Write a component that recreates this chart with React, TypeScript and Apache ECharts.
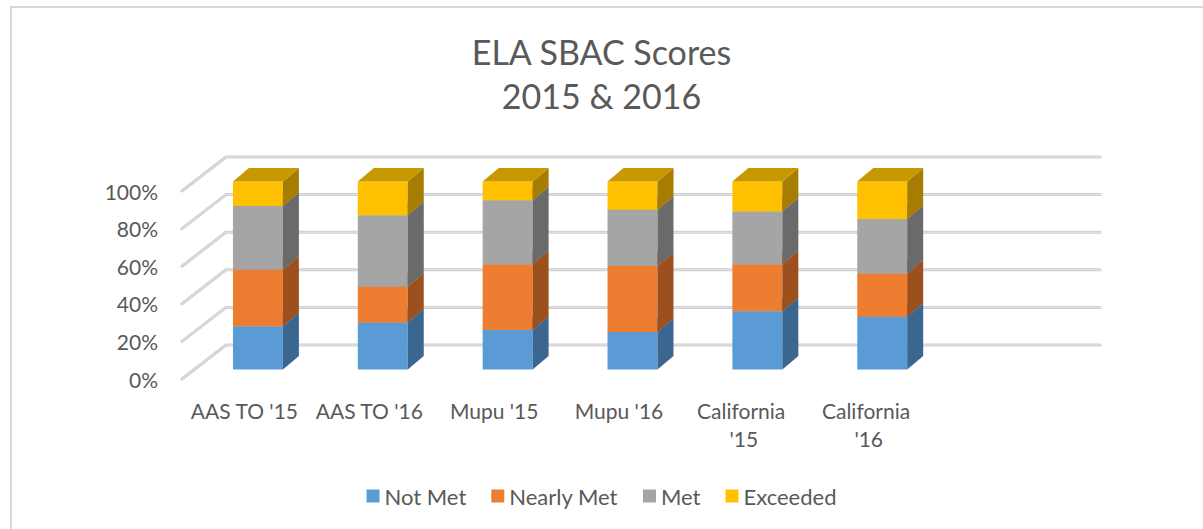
import React, { useEffect, useRef } from "react";
import * as echarts from "echarts";

const categories = ["AAS TO '15", "AAS TO '16", "Mupu '15", "Mupu '16", "California '15", "California '16"];
const seriesNames = ["Not Met", "Nearly Met", "Met", "Exceeded"];
const notMet = [23, 25, 21, 20, 31, 28];
const nearlyMet = [30, 19, 35, 35, 25, 23];
const met = [34, 38, 34, 30, 28, 29];
const exceeded = [13, 18, 10, 15, 16, 20];
const yTicks = [0, 20, 40, 60, 80, 100];

const FONT = "Lato";
const TEXT = "#595959";
const FRONT = { dx: 13.5, dy: -9.5 };
const DEPTH = { dx: 16, dy: -13.5 };
const WALL = { dx: 44, dy: -34 };

const palette = [
  { face: "#5b9bd5", side: "#3b6690", top: "#4a80b3" },
  { face: "#ed7d31", side: "#9b501e", top: "#c2662a" },
  { face: "#a5a5a5", side: "#6a6a6a", top: "#888888" },
  { face: "#ffc000", side: "#a67d00", top: "#c79800" },
];

function barRenderer(c: { face: string; side: string; top: string }) {
  return (params: any, api: any) => {
    const cat = api.value(0);
    const b = api.value(1);
    const t = api.value(2);
    const pb = api.coord([cat, b]);
    const pt = api.coord([cat, t]);
    const band = api.size([1, 0])[0];
    const w = band * 0.4;
    const x0 = pb[0] + FRONT.dx - w / 2;
    const x1 = x0 + w;
    const yb = pb[1] + FRONT.dy;
    const yt = pt[1] + FRONT.dy;
    return {
      type: "group",
      children: [
        {
          type: "polygon",
          shape: { points: [[x0, yb], [x1, yb], [x1, yt], [x0, yt]] },
          style: { fill: c.face },
        },
        {
          type: "polygon",
          shape: {
            points: [
              [x1, yb],
              [x1, yt],
              [x1 + DEPTH.dx, yt + DEPTH.dy],
              [x1 + DEPTH.dx, yb + DEPTH.dy],
            ],
          },
          style: { fill: c.side },
        },
        {
          type: "polygon",
          shape: {
            points: [
              [x0, yt],
              [x1, yt],
              [x1 + DEPTH.dx, yt + DEPTH.dy],
              [x0 + DEPTH.dx, yt + DEPTH.dy],
            ],
          },
          style: { fill: c.top },
        },
      ],
    };
  };
}

export default function App() {
  const ref = useRef<HTMLDivElement>(null);
  useEffect(() => {
    if (!ref.current) return;
    const chart = echarts.init(ref.current, null, { renderer: "svg" });
    const values = [notMet, nearlyMet, met, exceeded];
    const xData = [...categories, ""];
    const lastIdx = xData.length - 1;

    const barSeries = values.map((vals, k) => {
      const data = vals.map((v, i) => {
        let base = 0;
        for (let j = 0; j < k; j++) base += values[j][i];
        return [i, base, base + v];
      });
      return {
        type: "custom",
        name: seriesNames[k],
        itemStyle: { color: palette[k].face },
        encode: { x: 0, y: [1, 2] },
        data,
        z: 3,
        renderItem: barRenderer(palette[k]),
      };
    });

    const wallSeries = {
      type: "custom",
      name: "wall",
      silent: true,
      z: 1,
      encode: { x: 0, y: 1 },
      data: yTicks.map((v) => [0, v]),
      renderItem: (params: any, api: any) => {
        const v = api.value(1);
        const band = api.size([1, 0])[0];
        const pl = api.coord([0, v]);
        const pr = api.coord([lastIdx, v]);
        const xl = pl[0] - band / 2;
        const xr = pr[0] + band / 2;
        const y = pl[1];
        const pts = [
          [xl, y],
          [xl + WALL.dx, y + WALL.dy],
          [xr + WALL.dx, y + WALL.dy],
        ];
        return {
          type: "group",
          children: [
            {
              type: "polyline",
              shape: { points: pts },
              style: { stroke: "#cdcdcd", lineWidth: 3, fill: "none", lineCap: "round", lineJoin: "round" },
            },
            {
              type: "polyline",
              shape: { points: pts },
              style: { stroke: "#e6e6e6", lineWidth: 1, fill: "none", lineCap: "round", lineJoin: "round" },
            },
          ],
        };
      },
    };

    chart.setOption({
      animation: false,
      backgroundColor: "#ffffff",
      textStyle: { fontFamily: FONT },
      title: [
        {
          text: "ELA SBAC Scores",
          left: "center",
          top: 26,
          textStyle: { fontFamily: FONT, fontSize: 34, fontWeight: "normal", color: TEXT, lineHeight: 40 },
        },
        {
          text: "2015 & 2016",
          left: "center",
          top: 70,
          textStyle: { fontFamily: FONT, fontSize: 34, fontWeight: "normal", color: TEXT, lineHeight: 40 },
        },
      ],
      graphic: [
        {
          type: "rect",
          shape: { x: 11, y: 7, width: 1400, height: 700 },
          style: { fill: "none", stroke: "#d9d9d9", lineWidth: 2 },
          silent: true,
          z: 0,
        },
      ],
      legend: {
        data: seriesNames,
        left: "center",
        top: 479,
        icon: "rect",
        itemWidth: 13,
        itemHeight: 13,
        itemGap: 25,
        textStyle: { fontFamily: FONT, fontSize: 22, color: TEXT, lineHeight: 24 },
      },
      grid: { left: 182, top: 191, width: 874, height: 188, containLabel: false },
      xAxis: {
        type: "category",
        data: xData,
        axisLine: { show: false },
        axisTick: { show: false },
        splitLine: { show: false },
        axisLabel: {
          interval: 0,
          margin: 17,
          fontFamily: FONT,
          fontSize: 21,
          color: TEXT,
          lineHeight: 28,
          width: 112,
          overflow: "break",
        },
      },
      yAxis: {
        type: "value",
        min: 0,
        max: 100,
        interval: 20,
        axisLine: { show: false },
        axisTick: { show: false },
        splitLine: { show: false },
        axisLabel: {
          margin: 24,
          formatter: "{value}%",
          fontFamily: FONT,
          fontSize: 21,
          color: TEXT,
        },
      },
      series: [wallSeries, ...barSeries],
    });
    return () => chart.dispose();
  }, []);
  return (
    <div
      ref={ref}
      style={{ position: "absolute", left: 0, top: 0, width: "1203px", height: "529px" }}
    />
  );
}
